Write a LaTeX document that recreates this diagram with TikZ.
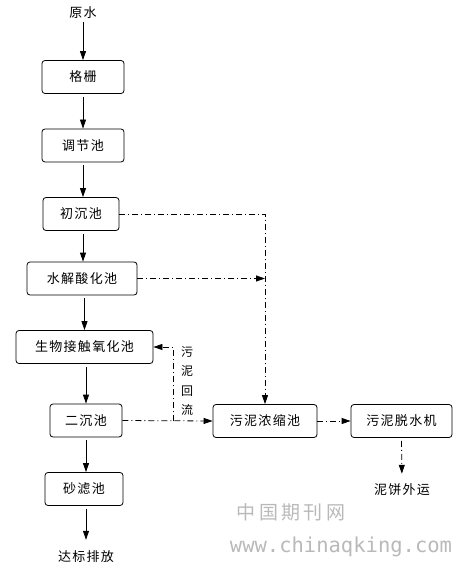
\documentclass[tikz,border=0pt]{standalone}
\usepackage{fontspec}
\usepackage{tikz}
\usetikzlibrary{arrows.meta}
\newfontfamily\cjk[LetterSpace=10]{Noto Sans CJK SC}
\newfontfamily\markfont[LetterSpace=18]{Noto Sans CJK SC}
\newfontfamily\urlfont{DejaVu Sans Mono}
\definecolor{markGray}{RGB}{185, 185, 185}

\begin{document}
\begin{tikzpicture}[x=1pt, y=-1pt,
    proc/.style={draw, line width=0.8pt, rounded corners=3pt, minimum height=33pt,
      inner sep=0pt, font=\cjk\fontsize{13}{15}\selectfont},
    word/.style={inner sep=0pt, font=\cjk\fontsize{13}{15}\selectfont},
    flow/.style={-{Triangle[length=9pt,width=6pt]}, line width=0.8pt, shorten <=3pt},
    sludge/.style={flow, dash pattern=on 6pt off 3pt on 1pt off 3pt}]
  \useasboundingbox (0,0) rectangle (459,569);
  % main water line
  \node[word] (raw) at (83,13) {原水};
  \node[proc, minimum width=82pt] (grid) at (83,77) {格栅};
  \node[proc, minimum width=82pt] (adjust) at (83,145.5) {调节池};
  \node[proc, minimum width=76pt] (first) at (81,214) {初沉池};
  \node[proc, minimum width=110pt] (hydro) at (82,278.5) {水解酸化池};
  \node[proc, minimum width=137pt] (bio) at (84.5,347) {生物接触氧化池};
  \node[proc, minimum width=72pt] (second) at (86,420.5) {二沉池};
  \node[proc, minimum width=78pt] (sand) at (84,489) {砂滤池};
  \node[word] (out) at (86,557) {达标排放};
  % sludge line
  \node[proc, minimum width=104pt] (thick) at (265,421) {污泥浓缩池};
  \node[proc, minimum width=101pt] (dewater) at (401.5,421) {污泥脱水机};
  \node[word] (cake) at (402,490) {泥饼外运};
  \node[inner sep=0pt, align=center, font=\cjk\fontsize{12}{19.5}\selectfont]
    (back) at (187,381) {污\\泥\\回\\流};
  \coordinate (merge) at (thick.north |- hydro.east);
  \coordinate (turn) at (173,421);

  \draw[flow] (raw) -- (grid);
  \draw[flow] (grid) -- (adjust);
  \draw[flow] (adjust) -- (adjust |- first.north);
  \draw[flow] (first.south -| adjust) -- (hydro.north -| adjust);
  \draw[flow] (hydro.south -| bio) -- (bio.north);
  \draw[flow] (bio.south -| second) -- (second.north);
  \draw[flow] (second) -- (second |- sand.north);
  \draw[flow, shorten >=11pt] (second |- sand.south) -- (second |- out.north);
  \draw[sludge, shorten <=0pt] (first.east) -| (thick.north);
  \draw[sludge, shorten <=0pt] (hydro.east) -- (merge);
  \draw[sludge, shorten <=0pt] (second.east) -- (thick.west);
  \draw[sludge, shorten <=0pt] (turn) |- (bio.east);
  \draw[sludge, shorten <=0pt] (thick.east) -- (dewater.west);
  \draw[sludge, shorten >=10pt] (dewater.south) -- (cake.north);

  % watermark
  \node[inner sep=0pt, text=markGray, font=\markfont\fontsize{19}{21}\selectfont]
    (markcn) at (291,512) {中国期刊网};
  \node[inner sep=0pt, text=markGray, font=\urlfont\fontsize{20.5}{22}\selectfont]
    (markurl) at (341,547) {www.chinaqking.com};
\end{tikzpicture}
\end{document}
